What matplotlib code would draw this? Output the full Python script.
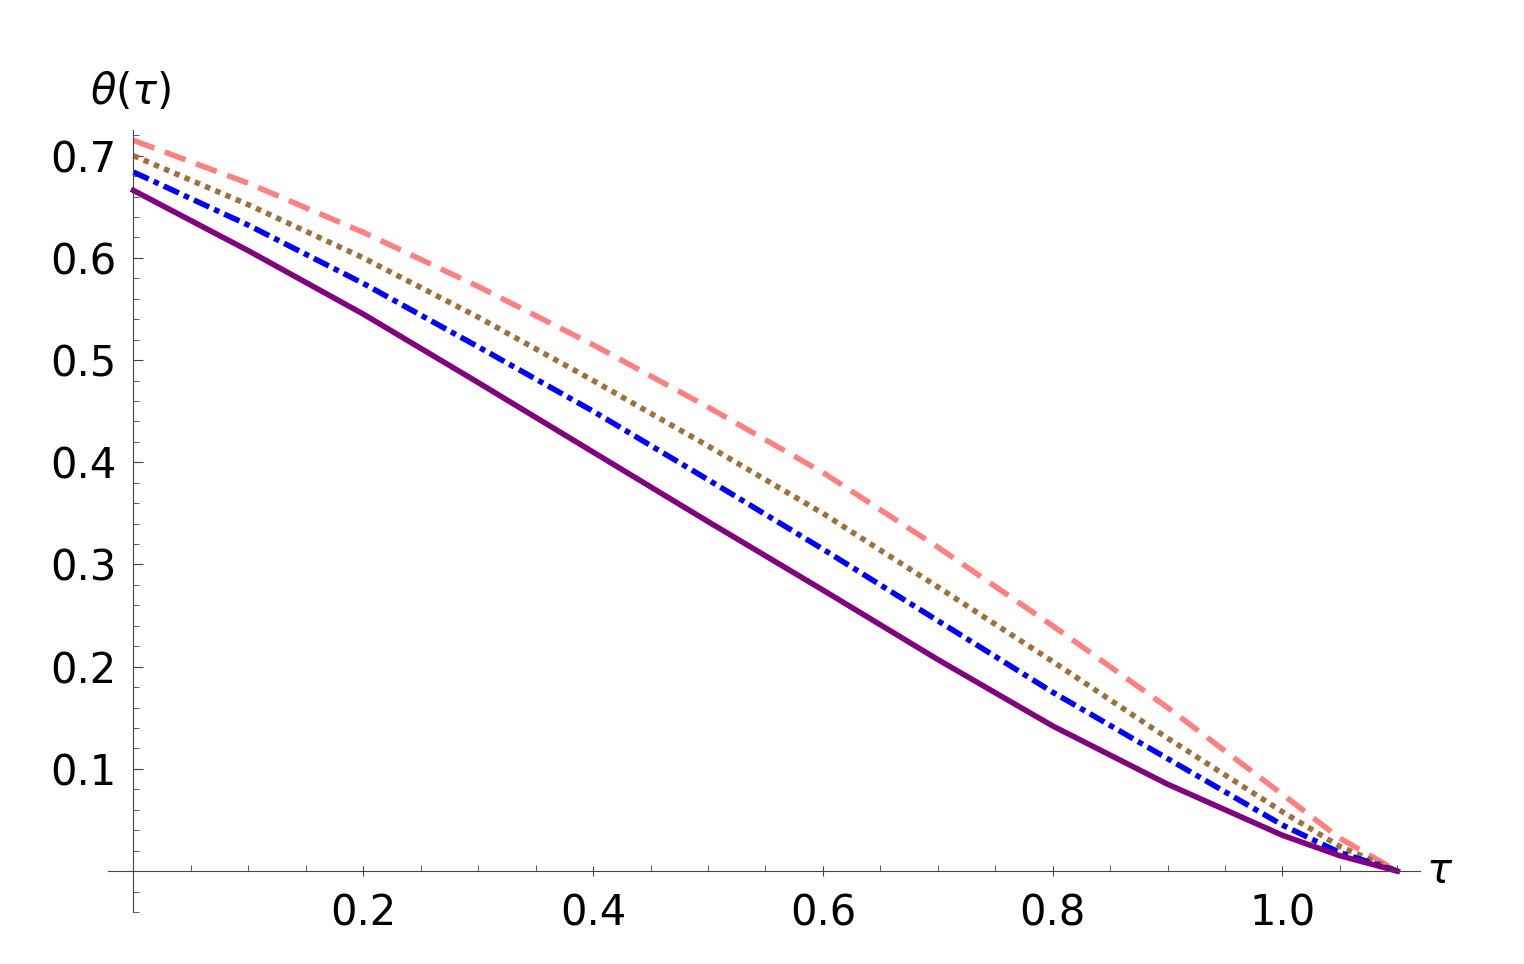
import matplotlib
matplotlib.use("Agg")
import matplotlib.pyplot as plt
from matplotlib.ticker import MultipleLocator

tau = [0.0, 0.1, 0.2, 0.3, 0.4, 0.5, 0.6, 0.7, 0.8, 0.9, 1.0, 1.05, 1.1]
theta_solid = [0.666, 0.607, 0.545, 0.478, 0.410, 0.342, 0.275, 0.207, 0.142, 0.085, 0.035, 0.015, 0.0]
theta_dashdot = [0.684, 0.632, 0.575, 0.513, 0.450, 0.383, 0.315, 0.245, 0.175, 0.110, 0.045, 0.018, 0.0]
theta_dotted = [0.700, 0.652, 0.600, 0.542, 0.480, 0.416, 0.350, 0.278, 0.205, 0.130, 0.058, 0.024, 0.0]
theta_dashed = [0.715, 0.673, 0.625, 0.572, 0.515, 0.454, 0.390, 0.317, 0.240, 0.160, 0.075, 0.032, 0.0]

fig = plt.figure(figsize=(15.24, 9.64), dpi=100)
ax = fig.add_axes([0.071, 0.054, 0.861, 0.811])

ax.plot(tau, theta_dashed, color="#ff8080", lw=4, ls=(0, (4, 2)))
ax.plot(tau, theta_dotted, color="#a0703c", lw=4, ls=(0, (1, 1)))
ax.plot(tau, theta_dashdot, color="#0000ff", lw=4, ls=(0, (3, 1, 1, 1)))
ax.plot(tau, theta_solid, color="#800080", lw=4)

ax.set_xlim(-0.022, 1.12)
ax.set_ylim(-0.04, 0.725)
for s in ["top", "right"]:
    ax.spines[s].set_visible(False)
ax.spines["left"].set_position(("data", 0))
ax.spines["bottom"].set_position(("data", 0))
ax.spines["left"].set_color("#444444")
ax.spines["bottom"].set_color("#444444")

ax.set_xticks([0.2, 0.4, 0.6, 0.8, 1.0])
ax.set_xticklabels(["0.2", "0.4", "0.6", "0.8", "1.0"])
ax.set_yticks([0.1, 0.2, 0.3, 0.4, 0.5, 0.6, 0.7])
ax.xaxis.set_minor_locator(MultipleLocator(0.05))
ax.yaxis.set_minor_locator(MultipleLocator(0.02))
ax.tick_params(labelsize=30, color="#444444", direction="in", length=7, pad=12)
ax.tick_params(which="minor", direction="in", length=4, color="#444444")
ax.tick_params(axis="x", direction="inout")

ax.text(-0.002, 0.742, r"$\theta(\tau)$", fontsize=30, ha="center", va="bottom")
ax.text(1.125, 0.0, r"$\tau$", fontsize=30, ha="left", va="center")

fig.savefig("out.png", dpi=100)
